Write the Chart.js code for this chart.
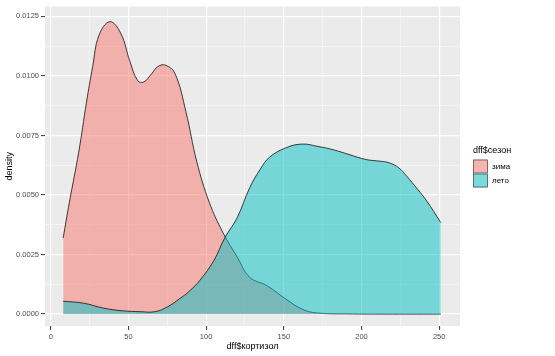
<!DOCTYPE html>
<html>
<head>
<meta charset="utf-8">
<script src="https://cdn.jsdelivr.net/npm/chart.js@4"></script>
<style>
  html, body { margin: 0; padding: 0; background: #fff; }
  #wrap { width: 555px; height: 356px; }
</style>
</head>
<body>
<div id="wrap"><canvas id="chart"></canvas></div>
<script>
// density, one x/y pair per point
const zimaX = [8, 12, 18, 23, 27, 31, 38, 45, 51, 56, 60, 65, 69, 74, 80, 87, 94, 102, 111, 120, 128, 139, 152, 162, 171, 190, 220, 251]
const zimaY = [0.0032, 0.0047, 0.0068, 0.0089, 0.0104, 0.0117, 0.01228, 0.0118, 0.0106, 0.0098, 0.00975, 0.0101, 0.0104, 0.01045, 0.0101, 0.0085, 0.0064, 0.0047, 0.0034, 0.0024, 0.00155, 0.0012, 0.0006, 0.0002, 0.00005, 0.00001, 0, 0]

const letoX = [8, 21, 34, 46, 58, 67, 75, 83, 89, 96, 105, 112, 120, 128, 135, 141, 152, 162, 172, 182, 192, 203, 212, 218, 224, 229, 236, 242, 251]
const letoY = [0.00054, 0.00046, 0.00025, 0.00014, 0.0001, 0.0001, 0.0003, 0.00065, 0.00095, 0.00142, 0.00225, 0.0032, 0.00405, 0.0053, 0.0061, 0.0066, 0.007, 0.00714, 0.00704, 0.0069, 0.0067, 0.00649, 0.00642, 0.00635, 0.00614, 0.0058, 0.00525, 0.00475, 0.00385]

const seasons = ['зима', 'лето']
const xMajor = [0, 50, 100, 150, 200, 250]
const xMinor = [25, 75, 125, 175, 225]
const yMajor = [0, 0.0025, 0.005, 0.0075, 0.01, 0.0125]
const yMinor = [0.00125, 0.00375, 0.00625, 0.00875, 0.01125]

const FONT = '"Liberation Sans", Arial, sans-serif'
const pinkFill = 'rgba(248, 118, 109, 0.5)'
const tealFill = 'rgba(0, 191, 196, 0.5)'

const toPoints = (xs, ys) => xs.map((x, i) => ({ x: x, y: ys[i] }))

const setTicks = (major, minor) => (scale) => {
  scale.ticks = major.map((v) => ({ value: v }))
    .concat(minor.map((v) => ({ value: v, minor: true })))
    .sort((a, b) => a.value - b.value)
}

const gridOpts = {
  color: (c) => (c.tick && c.tick.minor ? 'rgba(255,255,255,0.6)' : '#ffffff'),
  lineWidth: (c) => (c.tick && c.tick.minor ? 0.7 : 1.2),
  drawTicks: true,
  tickLength: 4,
  tickWidth: 1,
  tickColor: (c) => (c.tick && c.tick.minor ? 'rgba(0,0,0,0)' : '#333333'),
}

// grey panel behind the grid
const panelBg = {
  id: 'panelBg',
  beforeDraw(chart) {
    const { ctx, chartArea: a } = chart
    ctx.save()
    ctx.fillStyle = '#EBEBEB'
    ctx.fillRect(a.left, a.top, a.right - a.left, a.bottom - a.top)
    ctx.restore()
  },
}

// ggplot-style legend on the right
const sideLegend = {
  id: 'sideLegend',
  afterDraw(chart) {
    const ctx = chart.ctx
    ctx.save()
    ctx.fillStyle = '#000'
    ctx.textBaseline = 'middle'
    ctx.font = '9px ' + FONT
    ctx.fillText('dff$сезон', 473, 151)
    const fills = [pinkFill, tealFill]
    seasons.forEach((name, i) => {
      const y = 159.5 + i * 14
      ctx.fillStyle = '#F2F2F2'
      ctx.fillRect(473, y, 15, 14)
      ctx.fillStyle = fills[i]
      ctx.fillRect(473, y, 15, 14)
      ctx.strokeStyle = '#333'
      ctx.lineWidth = 0.6
      ctx.strokeRect(473.5, y + 0.5, 14, 13)
      ctx.fillStyle = '#000'
      ctx.font = '8px ' + FONT
      ctx.fillText(name, 492, y + 7)
    })
    ctx.restore()
  },
}

new Chart(document.getElementById('chart'), {
  type: 'line',
  data: {
    datasets: [
      {
        label: seasons[0],
        data: toPoints(zimaX, zimaY),
        backgroundColor: pinkFill,
        borderColor: '#111',
        borderWidth: 0.8,
        fill: 'origin',
        order: 2,
      },
      {
        label: seasons[1],
        data: toPoints(letoX, letoY),
        backgroundColor: tealFill,
        borderColor: '#111',
        borderWidth: 0.8,
        fill: 'origin',
        order: 1,
      },
    ],
  },
  options: {
    responsive: true,
    maintainAspectRatio: false,
    animation: false,
    layout: { padding: { top: 4, right: 95, left: 0, bottom: 0 } },
    elements: {
      point: { radius: 0 },
      line: { tension: 0.4 },
    },
    plugins: {
      legend: { display: false },
      tooltip: { enabled: false },
    },
    scales: {
      x: {
        type: 'linear',
        min: -3.7,
        max: 263.4,
        afterBuildTicks: setTicks(xMajor, xMinor),
        afterFit: (s) => { s.height = 30 },
        border: { display: false },
        grid: gridOpts,
        ticks: {
          padding: 2,
          color: '#4D4D4D',
          font: { family: FONT, size: 7.5 },
          maxRotation: 0,
          autoSkip: false,
          callback: (v) => (xMajor.includes(v) ? String(v) : ''),
        },
        title: {
          display: true,
          text: 'dff$кортизол',
          color: '#000',
          font: { family: FONT, size: 9 },
          padding: { top: 0, bottom: 4 },
        },
      },
      y: {
        type: 'linear',
        min: -0.0005,
        max: 0.012917,
        afterBuildTicks: setTicks(yMajor, yMinor),
        afterFit: (s) => { s.width = 45 },
        border: { display: false },
        grid: gridOpts,
        ticks: {
          padding: 2,
          color: '#4D4D4D',
          font: { family: FONT, size: 7.5 },
          autoSkip: false,
          callback: (v) => (yMajor.some((m) => Math.abs(m - v) < 1e-9) ? v.toFixed(4) : ''),
        },
        title: {
          display: true,
          text: 'density',
          color: '#000',
          font: { family: FONT, size: 9 },
          padding: { top: 4, bottom: 0 },
        },
      },
    },
  },
  plugins: [panelBg, sideLegend],
})
</script>
</body>
</html>
